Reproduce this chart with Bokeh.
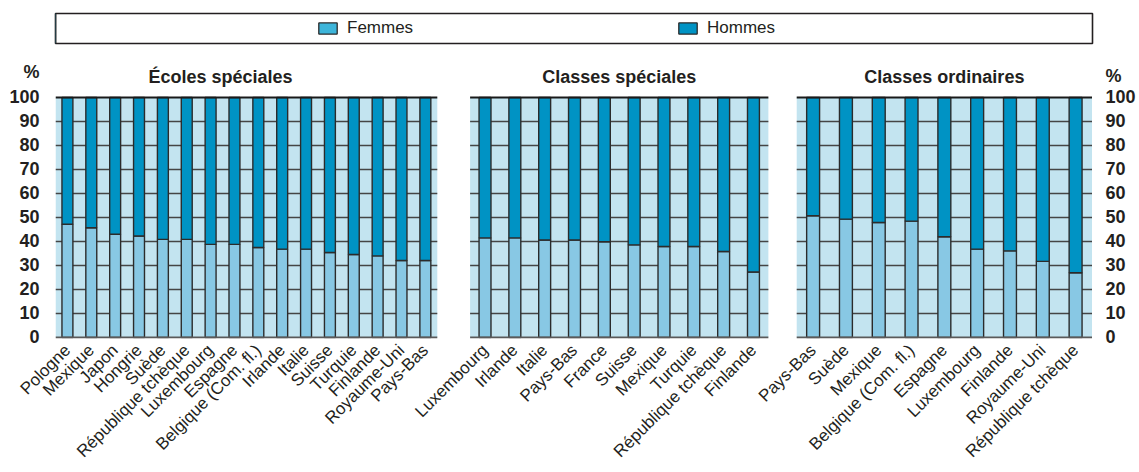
import math
from bokeh.plotting import figure
from bokeh.models import (Range1d, LinearAxis, FixedTicker, Legend, LegendItem,
                          AllLabels, ColumnDataSource)
from bokeh.layouts import column
from bokeh.embed import file_html
from bokeh.resources import INLINE
from bokeh.core.properties import value

# ---------------- data ----------------
ecoles_pays = ["Pologne", "Mexique", "Japon", "Hongrie", "Suède", "République tchèque",
               "Luxembourg", "Espagne", "Belgique (Com. fl.)", "Irlande", "Italie",
               "Suisse", "Turquie", "Finlande", "Royaume-Uni", "Pays-Bas"]
ecoles_femmes = [47.2, 45.7, 43.0, 42.3, 40.9, 40.9, 38.8, 38.8, 37.5, 36.8, 36.8,
                 35.4, 34.6, 34.0, 32.1, 32.1]

cl_spec_pays = ["Luxembourg", "Irlande", "Italie", "Pays-Bas", "France", "Suisse",
                "Mexique", "Turquie", "République tchèque", "Finlande"]
cl_spec_femmes = [41.5, 41.5, 40.6, 40.6, 39.9, 38.6, 37.9, 37.9, 35.8, 27.3]

cl_ord_pays = ["Pays-Bas", "Suède", "Mexique", "Belgique (Com. fl.)", "Espagne",
               "Luxembourg", "Finlande", "Royaume-Uni", "République tchèque"]
cl_ord_femmes = [50.7, 49.3, 47.9, 48.5, 42.0, 36.8, 36.1, 31.7, 27.0]

panel_titles = ["Écoles spéciales", "Classes spéciales", "Classes ordinaires"]
series = ["Femmes", "Hommes"]
y_ticks = list(range(0, 101, 10))
unit_label = "%"

# ---------------- styles / layout ----------------
FONT = "Liberation Sans"
TXT = "#231f20"
BG = "#c3e4f0"
FEM = "#88c8e4"
HOM = "#0093c4"
LEG_FEM = "#3db5da"
OUT = "#2b2b2b"
GRID = "#454545"

W = 1138
LEG_H = 56
MAIN_H = 415
ML, MR, MT = 53, 42, 1
FH = 281                      # frame height
MB = MAIN_H - MT - FH
FW = W - ML - MR
PX_PER_UNIT = 2.40
Y0 = -0.42
Y1 = Y0 + FH / PX_PER_UNIT

# panel geometry (frame pixel units): left edge, slot width, bar width, title centre
panels = [
    dict(pays=ecoles_pays, fem=ecoles_femmes, left=0, slot=24, bw=11, tx=166),
    dict(pays=cl_spec_pays, fem=cl_spec_femmes, left=417, slot=30, bw=12, tx=None),
    dict(pays=cl_ord_pays, fem=cl_ord_femmes, left=745.5, slot=33, bw=13, tx=None),
]

# ---------------- main figure ----------------
p = figure(width=W, height=MAIN_H, x_range=Range1d(0, FW), y_range=Range1d(Y0, Y1),
           output_backend="svg", toolbar_location=None,
           min_border_left=ML, min_border_right=MR, min_border_top=MT, min_border_bottom=MB,
           background_fill_color="white", border_fill_color="white", outline_line_color=None)
p.xgrid.visible = False
p.ygrid.visible = False

all_ticks = []
overrides = {}
for i, pn in enumerate(panels):
    n = len(pn["pays"])
    right = pn["left"] + n * pn["slot"]
    xs = []
    for k in range(n):
        c = pn["left"] + pn["slot"] * (k + 0.5)
        c = int(c) if float(c).is_integer() else c
        xs.append(c)
        all_ticks.append(c)
        overrides[c] = pn["pays"][k]
    # panel background
    p.quad(left=[pn["left"]], right=[right], bottom=[0], top=[100],
           fill_color=BG, line_color=None)
    # horizontal grid
    gy = y_ticks[1:-1]
    p.segment(x0=[pn["left"]] * len(gy), x1=[right] * len(gy), y0=gy, y1=gy,
              line_color=GRID, line_width=1.4)
    src = ColumnDataSource(dict(x=xs, Femmes=pn["fem"], Hommes=[100 - v for v in pn["fem"]]))
    p.vbar_stack(series, x="x", width=pn["bw"], source=src, fill_color=[FEM, HOM],
                 line_color=OUT, line_width=1.4)
    # baseline & top line
    p.segment(x0=[pn["left"]], x1=[right], y0=[0], y1=[0], line_color="#5a5a5a", line_width=2)
    p.segment(x0=[pn["left"]], x1=[right], y0=[100], y1=[100], line_color="#1a1a1a", line_width=2.2)
    tx = pn["tx"] if pn["tx"] is not None else (pn["left"] + right) / 2
    p.text(x=[tx], y=[108.7], text=[panel_titles[i]], text_font=value(FONT),
           text_font_size="18px", text_font_style="bold", text_color=TXT,
           text_align="center", text_baseline="alphabetic")

# x axis with country names
xa = p.xaxis[0]
xa.ticker = FixedTicker(ticks=all_ticks, minor_ticks=[])
xa.major_label_overrides = overrides
xa.major_label_orientation = math.pi / 4
xa.major_label_policy = AllLabels()
xa.major_label_text_font = FONT
xa.major_label_text_font_size = "17px"
xa.major_label_text_color = TXT
xa.major_label_standoff = 3
xa.axis_line_color = None
xa.major_tick_line_color = None
xa.minor_tick_line_color = None

# y axes left and right (unit sign shown as an extra label above 100)
def style_y(ax, standoff, unit_y):
    ax.ticker = FixedTicker(ticks=y_ticks + [unit_y], minor_ticks=[])
    ax.major_label_overrides = {unit_y: unit_label}
    ax.major_label_policy = AllLabels()
    ax.major_label_text_font = FONT
    ax.major_label_text_font_size = "18px"
    ax.major_label_text_font_style = "bold"
    ax.major_label_text_color = TXT
    ax.major_label_standoff = standoff
    ax.axis_line_color = None
    ax.major_tick_line_color = None
    ax.minor_tick_line_color = None

style_y(p.yaxis[0], 10, 110.5)
ry = LinearAxis()
style_y(ry, 7, 109.0)
p.add_layout(ry, "right")

# ---------------- legend figure ----------------
lg = figure(width=W, height=LEG_H, x_range=Range1d(0, 1), y_range=Range1d(0, 1),
            x_axis_type=None, y_axis_type=None, output_backend="svg", toolbar_location=None,
            min_border_left=55, min_border_right=W - 1100, min_border_top=13, min_border_bottom=13,
            outline_line_color="#231f20", outline_line_width=1.6,
            background_fill_color="white", border_fill_color="white")
lg.xgrid.visible = False
lg.ygrid.visible = False
r_f = lg.vbar(x=[-10], top=[1], width=0.1, fill_color=LEG_FEM, line_color=OUT, line_width=1.3)
r_h = lg.vbar(x=[-10], top=[1], width=0.1, fill_color=HOM, line_color=OUT, line_width=1.3)
legend = Legend(items=[LegendItem(label=series[0], renderers=[r_f]),
                       LegendItem(label=series[1], renderers=[r_h])],
                orientation="horizontal", location=(261, 5),
                glyph_width=23, glyph_height=14, label_standoff=8, label_width=80,
                spacing=249, padding=0, margin=0,
                border_line_color=None, background_fill_alpha=0,
                label_text_font=FONT, label_text_font_size="17px", label_text_color=TXT)
lg.add_layout(legend)

layout = column(lg, p)
open("out.html", "w").write(file_html(layout, INLINE))
